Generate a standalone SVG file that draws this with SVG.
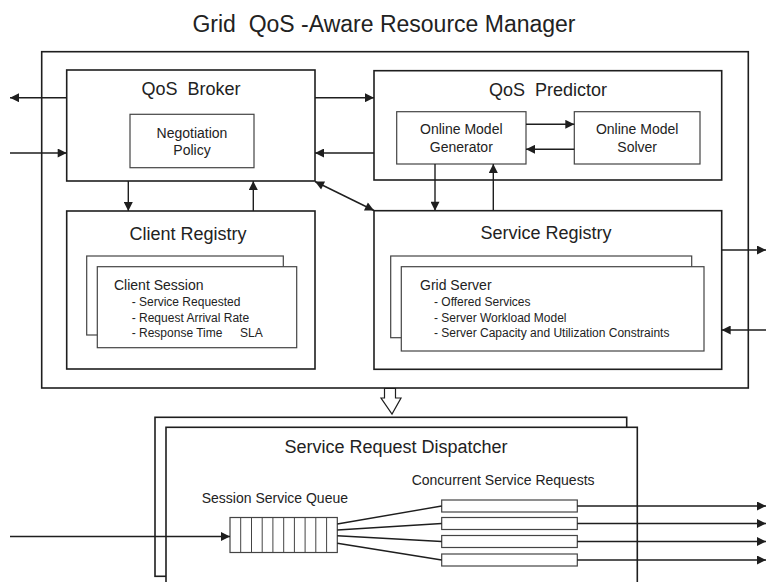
<svg xmlns="http://www.w3.org/2000/svg" width="766" height="582" viewBox="0 0 766 582">
<style>
text{font-family:"Liberation Sans",Arial,sans-serif;fill:#222}
.t18{font-size:18px;text-anchor:middle}
.t14{font-size:14px}
.c{text-anchor:middle}
.t12{font-size:12px}
.box{fill:#fff;stroke:#1e1e1e;stroke-width:1.6}
.ibox{fill:#fff;stroke:#444;stroke-width:1.2}
.ln{fill:none;stroke:#1e1e1e;stroke-width:1.4}
.arr{marker-end:url(#ah)}
</style>
<defs>
<marker id="ah" viewBox="0 0 10 10" refX="10" refY="5" markerUnits="userSpaceOnUse" markerWidth="11" markerHeight="9" orient="auto-start-reverse">
<path d="M0,0 L10,5 L0,10 z" fill="#1e1e1e"/>
</marker>
</defs>

<text x="384" y="32" style="font-size:23px;text-anchor:middle" xml:space="preserve">Grid  QoS -Aware Resource Manager</text>

<g id="manager">
<rect class="box" x="41.7" y="51.7" width="706.6" height="336.3"/>
</g>

<g id="qos-broker">
<rect class="box" x="66.7" y="70" width="248.3" height="111"/>
<text class="t18" x="191" y="94.5" xml:space="preserve">QoS  Broker</text>
</g>
<g id="negotiation-policy">
<rect class="ibox" x="130" y="114.3" width="124" height="53.4"/>
<text class="t14 c" x="192" y="137.7">Negotiation</text>
<text class="t14 c" x="192" y="155">Policy</text>
</g>

<g id="qos-predictor">
<rect class="box" x="374" y="70.7" width="347.7" height="109.3"/>
<text class="t18" x="548" y="95.5" xml:space="preserve">QoS  Predictor</text>
</g>
<g id="online-model-generator">
<rect class="ibox" x="396.7" y="111.7" width="129.3" height="52.3"/>
<text class="t14 c" x="461.3" y="134.3">Online Model</text>
<text class="t14 c" x="461.3" y="152">Generator</text>
</g>
<g id="online-model-solver">
<rect class="ibox" x="574.3" y="111.7" width="125.7" height="52.3"/>
<text class="t14 c" x="637.2" y="134.3">Online Model</text>
<text class="t14 c" x="637.2" y="152">Solver</text>
</g>

<g id="client-registry">
<rect class="box" x="66.7" y="211" width="248.3" height="158"/>
<text class="t18" x="188" y="240">Client Registry</text>
<rect class="ibox" x="86.7" y="256" width="196.6" height="79"/>
</g>
<g id="client-session">
<rect class="ibox" x="97.3" y="266.7" width="199.4" height="81"/>
<text class="t14" x="114" y="290">Client Session</text>
<text class="t12" x="131.7" y="306">- Service Requested</text>
<text class="t12" x="131.7" y="321.5">- Request Arrival Rate</text>
<text class="t12" x="131.7" y="336.7">- Response Time</text>
<text class="t12" x="240" y="336.7">SLA</text>
</g>

<g id="service-registry">
<rect class="box" x="374" y="210.7" width="347.7" height="158.6"/>
<text class="t18" x="546" y="238.5">Service Registry</text>
<rect class="ibox" x="390.7" y="256" width="301" height="81.7"/>
</g>
<g id="grid-server">
<rect class="ibox" x="401.3" y="266.7" width="302.7" height="84.3"/>
<text class="t14" x="420" y="290">Grid Server</text>
<text class="t12" x="434" y="306">- Offered Services</text>
<text class="t12" x="434" y="321.5">- Server Workload Model</text>
<text class="t12" x="434" y="336.7">- Server Capacity and Utilization Constraints</text>
</g>

<g id="service-request-dispatcher">
<rect class="box" x="155" y="417.3" width="471.7" height="159"/>
<rect class="box" x="166" y="427.3" width="471.3" height="170"/>
<text class="t18" x="396" y="453.3">Service Request Dispatcher</text>
<text class="t14" x="411.7" y="485">Concurrent Service Requests</text>
<text class="t14" x="201.7" y="502.7">Session Service Queue</text>
</g>
<g id="session-service-queue">
<rect class="ibox" x="230" y="517.5" width="107.3" height="35"/>
<path class="ln" style="stroke:#444;stroke-width:1" d="M240.7,517.5V552.5M251.5,517.5V552.5M262.2,517.5V552.5M272.9,517.5V552.5M283.7,517.5V552.5M294.4,517.5V552.5M305.1,517.5V552.5M315.8,517.5V552.5M326.6,517.5V552.5"/>
</g>
<g id="concurrent-requests">
<rect class="ibox" x="441.7" y="500" width="135.6" height="12"/>
<rect class="ibox" x="441.7" y="517.5" width="135.6" height="12"/>
<rect class="ibox" x="441.7" y="535.5" width="135.6" height="12"/>
<rect class="ibox" x="441.7" y="554" width="135.6" height="12"/>
</g>

<g id="connectors">
<line class="ln arr" x1="66.7" y1="97.7" x2="10" y2="97.7"/>
<line class="ln arr" x1="10" y1="153" x2="66.7" y2="153"/>
<line class="ln arr" x1="315" y1="97.7" x2="374" y2="97.7"/>
<line class="ln arr" x1="374" y1="153" x2="315" y2="153"/>
<line class="ln arr" x1="526" y1="124.3" x2="574.3" y2="124.3"/>
<line class="ln arr" x1="574.3" y1="149.3" x2="526" y2="149.3"/>
<line class="ln arr" x1="128.3" y1="181" x2="128.3" y2="211"/>
<line class="ln arr" x1="253.3" y1="211" x2="253.3" y2="181"/>
<line class="ln arr" x1="435" y1="164" x2="435" y2="210.7"/>
<line class="ln arr" x1="493.3" y1="210.7" x2="493.3" y2="164"/>
<line class="ln arr" x1="315" y1="181.5" x2="374" y2="210.5" style="marker-start:url(#ah)"/>
<line class="ln arr" x1="721.7" y1="250" x2="766" y2="250"/>
<line class="ln arr" x1="766" y1="330" x2="721.7" y2="330"/>
<polygon points="384.5,388.5 395.5,388.5 395.5,398 401,398 392,414 381,398 384.5,398" fill="#fff" stroke="#1e1e1e" stroke-width="1.2"/>
<line class="ln arr" x1="10" y1="536.5" x2="230" y2="536.5"/>
<line class="ln" x1="337.3" y1="524" x2="441.7" y2="506"/>
<line class="ln" x1="337.3" y1="530" x2="441.7" y2="523.5"/>
<line class="ln" x1="337.3" y1="535.7" x2="441.7" y2="541.5"/>
<line class="ln" x1="337.3" y1="543.3" x2="441.7" y2="560"/>
<line class="ln arr" x1="577.3" y1="506" x2="766" y2="506"/>
<line class="ln arr" x1="577.3" y1="523.5" x2="766" y2="523.5"/>
<line class="ln arr" x1="577.3" y1="541.5" x2="766" y2="541.5"/>
<line class="ln arr" x1="577.3" y1="560" x2="766" y2="560"/>
</g>
</svg>
